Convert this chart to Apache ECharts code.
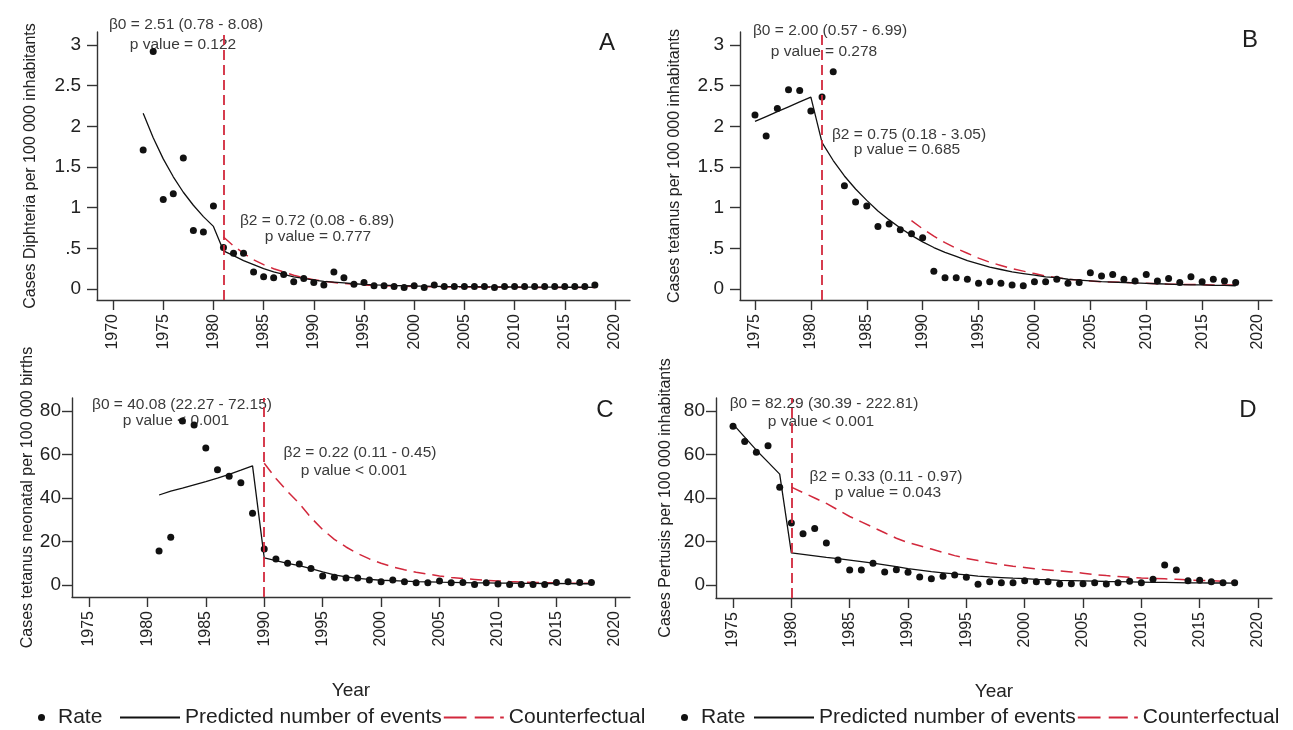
<!DOCTYPE html>
<html lang="en">
<head>
<meta charset="UTF-8">
<title>Interrupted time series - vaccine preventable diseases</title>
<script src="https://cdn.jsdelivr.net/npm/echarts@6/dist/echarts.min.js"></script>
<style>
  html, body { margin: 0; padding: 0; background: #fff; }
  #chart { width: 1293px; height: 730px; }
</style>
</head>
<body>
<div id="chart"></div>
<script>
  const FONT = "'Liberation Sans', Arial, sans-serif";
  const RED = '#d2283c';
  const BLACK = '#111';

  // tick labels
  const yearTicksA = [1970, 1975, 1980, 1985, 1990, 1995, 2000, 2005, 2010, 2015, 2020];
  const yearTicks = [1975, 1980, 1985, 1990, 1995, 2000, 2005, 2010, 2015, 2020];
  const smallTicks = [0, 0.5, 1, 1.5, 2, 2.5, 3];
  const largeTicks = [0, 20, 40, 60, 80];

  // A - diphteria (rate from 1973, counterfactual from 1981)
  const diphRate = [1.71, 2.92, 1.10, 1.17, 1.61, 0.72, 0.70, 1.02, 0.51, 0.44,
    0.44, 0.21, 0.15, 0.14, 0.18, 0.09, 0.13, 0.08, 0.05, 0.21,
    0.14, 0.06, 0.08, 0.04, 0.04, 0.03, 0.02, 0.04, 0.02, 0.05,
    0.03, 0.03, 0.03, 0.03, 0.03, 0.02, 0.03, 0.03, 0.03, 0.03,
    0.03, 0.03, 0.03, 0.03, 0.03, 0.05];
  const diphPred = [2.16, 1.86, 1.60, 1.38, 1.19, 1.03, 0.89, 0.77, 0.47, 0.41,
    0.35, 0.30, 0.25, 0.21, 0.18, 0.15, 0.13, 0.11, 0.095, 0.085,
    0.075, 0.065, 0.058, 0.052, 0.047, 0.043, 0.04, 0.037, 0.035, 0.033,
    0.031, 0.03, 0.029, 0.028, 0.027, 0.026, 0.025, 0.025, 0.024, 0.024,
    0.023, 0.023, 0.022, 0.022, 0.022, 0.021];
  const diphCf = [0.64, 0.53, 0.44, 0.36, 0.30, 0.25, 0.21, 0.17, 0.14, 0.115,
    0.095, 0.08, 0.068, 0.058, 0.05, 0.044, 0.04, 0.036, 0.033, 0.031,
    0.029, 0.027, 0.026, 0.025, 0.024, 0.023, 0.022, 0.022, 0.021, 0.021,
    0.02, 0.02, 0.02, 0.019, 0.019, 0.019, 0.018, 0.018];

  // B - tetanus (rate from 1975, counterfactual from 1989)
  const tetRate = [2.14, 1.88, 2.22, 2.45, 2.44, 2.19, 2.36, 2.67, 1.27, 1.07,
    1.02, 0.77, 0.80, 0.73, 0.68, 0.63, 0.22, 0.14, 0.14, 0.12,
    0.07, 0.09, 0.07, 0.05, 0.04, 0.09, 0.09, 0.12, 0.07, 0.08,
    0.20, 0.16, 0.18, 0.12, 0.10, 0.18, 0.10, 0.13, 0.08, 0.15,
    0.09, 0.12, 0.10, 0.08];
  const tetPred = [2.06, 2.12, 2.18, 2.24, 2.30, 2.36, 1.80, 1.58, 1.39, 1.23,
    1.09, 0.96, 0.85, 0.75, 0.66, 0.58, 0.51, 0.45, 0.40, 0.35,
    0.31, 0.27, 0.24, 0.21, 0.19, 0.17, 0.15, 0.14, 0.12, 0.11,
    0.10, 0.09, 0.085, 0.08, 0.075, 0.07, 0.065, 0.06, 0.055, 0.05,
    0.05, 0.045, 0.045, 0.04];
  const tetCf = [0.84, 0.74, 0.65, 0.57, 0.50, 0.44, 0.38, 0.33, 0.29, 0.25,
    0.22, 0.19, 0.16, 0.14, 0.12, 0.11, 0.10, 0.09, 0.085, 0.08,
    0.075, 0.07, 0.065, 0.06, 0.058, 0.055, 0.053, 0.05, 0.05, 0.048];

  // C - neonatal tetanus (rate from 1981, counterfactual from 1990)
  const neoRate = [15.6, 22, 75.4, 73.6, 63, 53, 50, 47, 33, 16.6,
    12, 10, 9.7, 7.6, 4.1, 3.6, 3.2, 3.2, 2.3, 1.5,
    2.3, 1.5, 1.1, 1.1, 1.9, 1.1, 1.2, 0.3, 1.1, 0.5,
    0.3, 0.3, 0.3, 0.3, 1.2, 1.5, 1.2, 1.2];
  const neoPred = [41.4, 43.2, 44.6, 46.1, 47.6, 49.2, 50.9, 52.8, 54.8, 12.5,
    11.2, 10, 8.9, 7.6, 6.0, 4.7, 3.8, 3.1, 2.6, 2.2,
    2.0, 1.8, 1.6, 1.45, 1.3, 1.2, 1.1, 1.0, 0.95, 0.9,
    0.85, 0.8, 0.75, 0.7, 0.7, 0.65, 0.6, 0.6];
  const neoCf = [56, 49, 43, 37.5, 31, 25.5, 21, 17.5, 14.5, 12,
    10, 8.3, 7, 5.9, 5, 4.2, 3.5, 3, 2.6, 2.2,
    1.9, 1.6, 1.4, 1.2, 1.1, 1.0, 0.9, 0.85, 0.8];

  // D - pertussis (rate from 1975, counterfactual from 1980)
  const pertRate = [73, 66, 61, 64, 45, 28.5, 23.5, 26, 19.3, 11.5,
    6.9, 6.9, 10, 6, 7, 5.9, 3.7, 2.8, 4, 4.6,
    3.5, 0.3, 1.5, 1, 1, 1.9, 1.5, 1.5, 0.4, 0.5,
    0.5, 1, 0.4, 1, 1.7, 1, 2.6, 9.2, 6.9, 1.9,
    2.2, 1.5, 1, 1];
  const pertPred = [74, 68, 62, 56.5, 51, 14.8, 14.1, 13.4, 12.7, 12.1,
    11.4, 10.7, 10.0, 9.2, 8.4, 7.5, 6.8, 6.1, 5.6, 5.1,
    4.6, 4.1, 3.7, 3.4, 3.1, 2.9, 2.6, 2.4, 2.1, 2.0,
    1.9, 1.8, 1.6, 1.5, 1.4, 1.3, 1.2, 1.2, 1.1, 1.0,
    1.0, 0.9, 0.9, 0.8];
  const pertCf = [45, 42.5, 40, 37.5, 34.5, 31.5, 29, 26.5, 24, 21.5,
    19.5, 18, 16.5, 15, 13.5, 12.2, 11.2, 10.2, 9.3, 8.6,
    8, 7.4, 6.9, 6.4, 6, 5.4, 4.8, 4.3, 3.9, 3.5,
    3.2, 3, 2.8, 2.6, 2.3, 2.1, 1.9, 1.7, 1.5];

  function byYear(start, values) {
    return values.map(function (v, i) { return [start + i, v]; });
  }

  const panels = [
    {grid: {left: 97, top: 32, width: 533, height: 268}, xMin: 1968.4, xMax: 2021.5, xTicks: yearTicksA,
      yMin: -0.135, yMax: 3.16, yTicks: smallTicks, yName: 'Cases Diphteria per 100 000 inhabitants', nameGap: 58, labelMargin: 16,
      cut: 1981, rate: byYear(1973, diphRate), pred: byYear(1973, diphPred), cf: byYear(1981, diphCf)},
    {grid: {left: 740, top: 32, width: 532, height: 268}, xMin: 1973.66, xMax: 2021.25, xTicks: yearTicks,
      yMin: -0.135, yMax: 3.16, yTicks: smallTicks, yName: 'Cases tetanus per 100 000 inhabitants', nameGap: 57, labelMargin: 16,
      cut: 1981, rate: byYear(1975, tetRate), pred: byYear(1975, tetPred), cf: byYear(1989, tetCf)},
    {grid: {left: 72, top: 398, width: 558, height: 199}, xMin: 1973.55, xMax: 2021.3, xTicks: yearTicks,
      yMin: -5.5, yMax: 86, yTicks: largeTicks, yName: 'Cases tetanus neonatal per 100 000 births', nameGap: 36, labelMargin: 11,
      cut: 1990, rate: byYear(1981, neoRate), pred: byYear(1981, neoPred), cf: byYear(1990, neoCf), xName: 'Year'},
    {grid: {left: 716, top: 398, width: 556, height: 200}, xMin: 1973.54, xMax: 2021.2, xTicks: yearTicks,
      yMin: -6, yMax: 86, yTicks: largeTicks, yName: 'Cases Pertusis per 100 000 inhabitants', nameGap: 42, labelMargin: 11,
      cut: 1980, rate: byYear(1975, pertRate), pred: byYear(1975, pertPred), cf: byYear(1980, pertCf), xName: 'Year'}
  ];

  const axisLine = {show: true, onZero: false, lineStyle: {color: '#333', width: 1.4}};
  const tickStyle = {color: '#333', width: 1.4};

  const grids = [], xAxes = [], yAxes = [], series = [];
  panels.forEach(function (p, i) {
    grids.push(Object.assign({containLabel: false, outerBoundsMode: 'none'}, p.grid));
    xAxes.push({
      type: 'value', gridIndex: i, min: p.xMin, max: p.xMax,
      axisLine: axisLine,
      axisTick: {show: true, length: 10, customValues: p.xTicks, lineStyle: tickStyle},
      axisLabel: {
        customValues: p.xTicks, rotate: 90, margin: 14, fontSize: 16, color: '#222', fontFamily: FONT,
        formatter: function (v) { return String(v); }
      },
      splitLine: {show: false},
      name: p.xName || '', nameLocation: 'middle', nameGap: 84,
      nameTextStyle: {fontSize: 19, color: '#222', fontFamily: FONT}
    });
    yAxes.push({
      type: 'value', gridIndex: i, min: p.yMin, max: p.yMax,
      axisLine: axisLine,
      axisTick: {show: true, length: 10, customValues: p.yTicks, lineStyle: tickStyle},
      axisLabel: {
        customValues: p.yTicks, margin: p.labelMargin, fontSize: 19, color: '#222', fontFamily: FONT,
        formatter: function (v) { return v === 0.5 ? '.5' : String(v); }
      },
      splitLine: {show: false},
      name: p.yName, nameLocation: 'middle', nameGap: p.nameGap,
      nameTextStyle: {fontSize: 16, color: '#222', fontFamily: FONT}
    });
    series.push({
      name: 'Rate', type: 'scatter', xAxisIndex: i, yAxisIndex: i, z: 4,
      symbol: 'circle', symbolSize: 7, itemStyle: {color: BLACK, opacity: 1}, color: BLACK,
      data: p.rate,
      markLine: {
        silent: true, symbol: ['none', 'none'], label: {show: false},
        lineStyle: {color: RED, type: [10, 5], width: 1.8},
        emphasis: {disabled: true},
        data: [{xAxis: p.cut}]
      }
    });
    series.push({
      name: 'Predicted number of events', type: 'line', xAxisIndex: i, yAxisIndex: i, z: 3,
      showSymbol: false, symbol: 'none', color: BLACK,
      lineStyle: {color: BLACK, width: 1.3},
      data: p.pred
    });
    series.push({
      name: 'Counterfectual', type: 'line', xAxisIndex: i, yAxisIndex: i, z: 2,
      showSymbol: false, symbol: 'none', color: RED,
      lineStyle: {color: RED, width: 1.5, type: [12, 7]},
      data: p.cf
    });
  });

  function note(x, y, text, size) {
    return {
      type: 'text', x: x, y: y, silent: true,
      style: {
        text: text, font: (size || 15.5) + 'px ' + FONT, fill: '#3a3a3a',
        align: 'center', verticalAlign: 'middle', textAlign: 'center', textVerticalAlign: 'middle'
      }
    };
  }
  function letter(x, y, text) {
    const n = note(x, y, text, 24);
    n.style.fill = '#1e1e1e';
    return n;
  }

  const solidIcon = 'path://M0,0h60v2h-60z';
  const dashIcon = 'path://M0,0h25v2h-25z M34,0h21v2h-21z M62,0h4v2h-4z';
  const legendText = {fontSize: 21, color: '#222', fontFamily: FONT};
  function rateLegend(left) {
    return {data: [{name: 'Rate', icon: 'circle'}], left: left, top: 707, padding: 0,
      itemWidth: 7, itemHeight: 7, selectedMode: false,
      textStyle: Object.assign({padding: [0, 0, 0, 8]}, legendText)};
  }
  function lineLegend(left, gap) {
    return {data: [{name: 'Predicted number of events', icon: solidIcon}, {name: 'Counterfectual', icon: dashIcon}],
      left: left, top: 707, padding: 0, itemWidth: 60, itemHeight: 2, itemGap: gap,
      selectedMode: false, textStyle: legendText};
  }

  const chart = echarts.init(document.getElementById('chart'));
  chart.setOption({
    animation: false,
    backgroundColor: '#fff',
    grid: grids,
    xAxis: xAxes,
    yAxis: yAxes,
    series: series,
    legend: [rateLegend(38), lineLegend(120, 2), rateLegend(681), lineLegend(754, 2)],
    graphic: [
      note(186, 25, '\u03b20 = 2.51 (0.78 - 8.08)'), note(183, 45, 'p value = 0.122'),
      note(317, 221, '\u03b22 = 0.72 (0.08 - 6.89)'), note(318, 237, 'p value = 0.777'),
      note(830, 31, '\u03b20 = 2.00 (0.57 - 6.99)'), note(824, 52, 'p value = 0.278'),
      note(909, 135, '\u03b22 = 0.75 (0.18 - 3.05)'), note(907, 150, 'p value = 0.685'),
      note(182, 405, '\u03b20 = 40.08 (22.27 - 72.15)'), note(176, 421, 'p value < 0.001'),
      note(360, 453, '\u03b22 = 0.22 (0.11 - 0.45)'), note(354, 471, 'p value < 0.001'),
      note(824, 404, '\u03b20 = 82.29 (30.39 - 222.81)'), note(821, 422, 'p value < 0.001'),
      note(886, 477, '\u03b22 = 0.33 (0.11 - 0.97)'), note(888, 493, 'p value = 0.043'),
      letter(607, 43, 'A'), letter(1250, 40, 'B'), letter(605, 410, 'C'), letter(1248, 410, 'D')
    ]
  });
</script>
</body>
</html>
